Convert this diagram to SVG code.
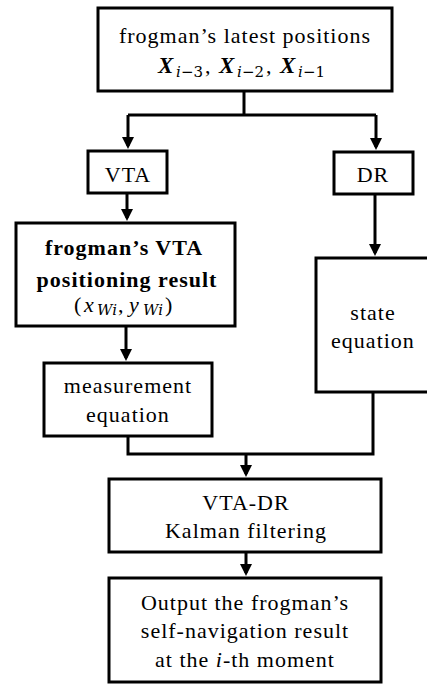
<svg xmlns="http://www.w3.org/2000/svg" width="427" height="685" viewBox="0 0 427 685">
<style>
.box{fill:#fff;stroke:#000;stroke-width:3}
.t{font-family:"Liberation Serif","Times New Roman",serif;font-size:22px;letter-spacing:1px;fill:#000;text-anchor:middle}
.b{font-weight:bold}
.mx{font-family:"Liberation Serif","Times New Roman",serif;font-size:23px;font-weight:bold;font-style:italic;fill:#000}
.ms{font-family:"DejaVu Serif","Liberation Serif",serif;font-size:15px;fill:#000}
.mi{font-family:"Liberation Serif","Times New Roman",serif;font-size:22px;fill:#000}
.ln{fill:none;stroke:#000;stroke-width:3}
</style>
<defs>
<marker id="ah" markerWidth="4" markerHeight="4" refX="3" refY="2" orient="auto" markerUnits="strokeWidth">
<path d="M0,0 L4,2 L0,4 z" fill="#000"/>
</marker>
</defs>
<rect width="427" height="685" fill="#fff"/>
<g id="connectors">
<polyline class="ln" points="244,91 244,115"/>
<polyline class="ln" points="128,115 376,115"/>
<polyline class="ln" points="128,115 128,146" marker-end="url(#ah)"/>
<polyline class="ln" points="376,115 376,147" marker-end="url(#ah)"/>
<polyline class="ln" points="127,193 127,218" marker-end="url(#ah)"/>
<polyline class="ln" points="375,194 375,253" marker-end="url(#ah)"/>
<polyline class="ln" points="126,327 126,358" marker-end="url(#ah)"/>
<polyline class="ln" points="128,436 128,454 373,454 373,392"/>
<polyline class="ln" points="246,454 246,474" marker-end="url(#ah)"/>
<polyline class="ln" points="246,552 246,573" marker-end="url(#ah)"/>
</g>
<g id="n-latest">
<rect class="box" x="98" y="8" width="294" height="83"/>
<text class="t" x="245" y="43">frogman’s latest positions</text>
<text class="mx" x="158" y="73">X</text>
<text class="ms" x="176" y="77" font-style="italic">i</text>
<text class="ms" x="181" y="77">−3</text>
<text class="mi" x="205" y="73">,</text>
<text class="mx" x="219" y="73">X</text>
<text class="ms" x="237" y="77" font-style="italic">i</text>
<text class="ms" x="242" y="77">−2</text>
<text class="mi" x="266" y="73">,</text>
<text class="mx" x="280" y="73">X</text>
<text class="ms" x="298" y="77" font-style="italic">i</text>
<text class="ms" x="303" y="77">−1</text>
</g>
<g id="n-vta">
<rect class="box" x="88" y="151" width="79" height="42"/>
<text class="t" x="128" y="182">VTA</text>
</g>
<g id="n-dr">
<rect class="box" x="334" y="152" width="79" height="42"/>
<text class="t" x="373" y="182">DR</text>
</g>
<g id="n-vtaresult">
<rect class="box" x="16" y="223" width="219" height="103"/>
<text class="t b" x="124" y="255">frogman’s VTA</text>
<text class="t b" x="127" y="287">positioning result</text>
<text class="mi" x="74" y="312">(</text>
<text class="mi" x="84" y="312" font-size="24" font-style="italic">x</text>
<text class="ms" x="97" y="315" font-style="italic">Wi</text>
<text class="mi" x="118" y="312">,</text>
<text class="mi" x="129" y="312" font-size="24" font-style="italic">y</text>
<text class="ms" x="143" y="315" font-style="italic">Wi</text>
<text class="mi" x="165" y="312">)</text>
</g>
<g id="n-state">
<rect class="box" x="316" y="258" width="115" height="134"/>
<text class="t" x="373" y="320">state</text>
<text class="t" x="373" y="348">equation</text>
</g>
<g id="n-measure">
<rect class="box" x="44" y="363" width="168" height="73"/>
<text class="t" x="128" y="393">measurement</text>
<text class="t" x="128" y="422">equation</text>
</g>
<g id="n-kalman">
<rect class="box" x="109" y="479" width="272" height="73"/>
<text class="t" x="246" y="510">VTA-DR</text>
<text class="t" x="246" y="538">Kalman filtering</text>
</g>
<g id="n-output">
<rect class="box" x="109" y="578" width="272" height="104"/>
<text class="t" x="245" y="610">Output the frogman’s</text>
<text class="t" x="245" y="638">self-navigation result</text>
<text class="t" x="245" y="667">at the <tspan font-style="italic">i</tspan>-th moment</text>
</g>
</svg>
